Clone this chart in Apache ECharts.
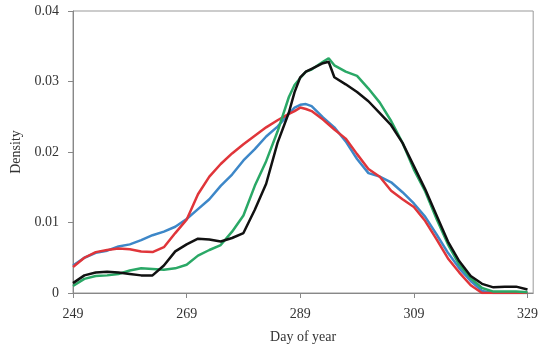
<!DOCTYPE html>
<html>
<head>
<meta charset="utf-8">
<script src="https://cdn.jsdelivr.net/npm/echarts@6/dist/echarts.min.js"></script>
<style>html,body{margin:0;padding:0;background:#fff}#c{width:541px;height:349px}</style>
</head>
<body>
<div id="c"></div>
<script>
const days = [249,251,253,255,257,259,261,263,265,267,269,271,273,275,277,279,281,283,285,287,288,289,290,291,293,294,295,297,299,301,303,305,307,309,311,313,315,317,319,321,323,325,327,329];
const blueVals = [.0039,.0050,.0057,.0060,.0066,.0069,.0075,.0082,.0087,.0094,.0105,.0119,.0133,.0152,.0168,.0188,.0204,.0222,.0236,.0254,.0263,.0267,.0268,.0265,.0249,.0242,.0235,.0215,.0190,.0170,.0165,.0157,.0143,.0127,.0108,.0083,.0057,.0035,.0017,.0003,0,0,0,0];
const redVals = [.0037,.0050,.0058,.0061,.0063,.0062,.0059,.0058,.0065,.0085,.0104,.0140,.0165,.0183,.0198,.0211,.0223,.0235,.0245,.0254,.0258,.0263,.0261,.0258,.0246,.0239,.0232,.0219,.0197,.0176,.0165,.0145,.0133,.0122,.0102,.0076,.0049,.0029,.0011,0,0,0,0,0];
const greenVals = [.0010,.0020,.0024,.0025,.0027,.0032,.0035,.0034,.0033,.0035,.0040,.0053,.0061,.0068,.0087,.0110,.0152,.0187,.0229,.0278,.0295,.0305,.0314,.0317,.0328,.0333,.0323,.0314,.0308,.0290,.0270,.0244,.0213,.0175,.0144,.0105,.0069,.0040,.0021,.0007,.0002,.0002,.0002,.0001];
const blackVals = [.0014,.0025,.0029,.0030,.0029,.0027,.0025,.0025,.0039,.0059,.0069,.0077,.0076,.0073,.0078,.0085,.0118,.0155,.0213,.0256,.0285,.0306,.0314,.0318,.0326,.0328,.0306,.0296,.0285,.0272,.0255,.0238,.0213,.0180,.0147,.0110,.0073,.0045,.0024,.0013,.0008,.0009,.0009,.0005];
const xTicks = [249,269,289,309,329];
const yTicks = [0,0.01,0.02,0.03,0.04];

const font = 'Liberation Serif, Times New Roman, serif';
const pair = vals => days.map((d,i)=>[d, vals[i]]);
const mk = (name, vals, color) => ({
  name, type:'line', data: pair(vals), showSymbol:false, symbol:'none',
  lineStyle:{color, width:2.5}, itemStyle:{color}, animation:false, z: 2
});
const chart = echarts.init(document.getElementById('c'), null, {renderer:'canvas'});
chart.setOption({
  animation:false,
  grid:{left:73, top:11, right:6, bottom:52, show:true, borderColor:'#999', borderWidth:1, backgroundColor:'transparent'},
  xAxis:{
    type:'value', min:249, max:330,
    name:'Day of year', nameLocation:'middle', nameGap:37,
    nameTextStyle:{fontFamily:font, fontSize:14, color:'#333'},
    axisLine:{lineStyle:{color:'#888', width:1}},
    axisTick:{show:true, length:5, lineStyle:{color:'#888'}, customValues:xTicks},
    axisLabel:{fontFamily:font, fontSize:14, color:'#333', margin:14, customValues:xTicks},
    splitLine:{show:false}
  },
  yAxis:{
    type:'value', min:0, max:0.04, interval:0.01,
    name:'Density', nameLocation:'middle', nameGap:46, nameRotate:90,
    nameTextStyle:{fontFamily:font, fontSize:14, color:'#333'},
    axisLine:{show:true, lineStyle:{color:'#888', width:1}},
    axisTick:{show:true, length:5, lineStyle:{color:'#888'}},
    axisLabel:{fontFamily:font, fontSize:14, color:'#333', margin:14,
      formatter: v => yTicks.includes(+v.toFixed(2)) ? String(+v.toFixed(2)) : ''},
    splitLine:{show:false}
  },
  series:[
    mk('blue', blueVals, '#3d87c8'),
    mk('red', redVals, '#e0353a'),
    mk('green', greenVals, '#2aa866'),
    mk('black', blackVals, '#111111')
  ]
});
</script>
</body>
</html>
